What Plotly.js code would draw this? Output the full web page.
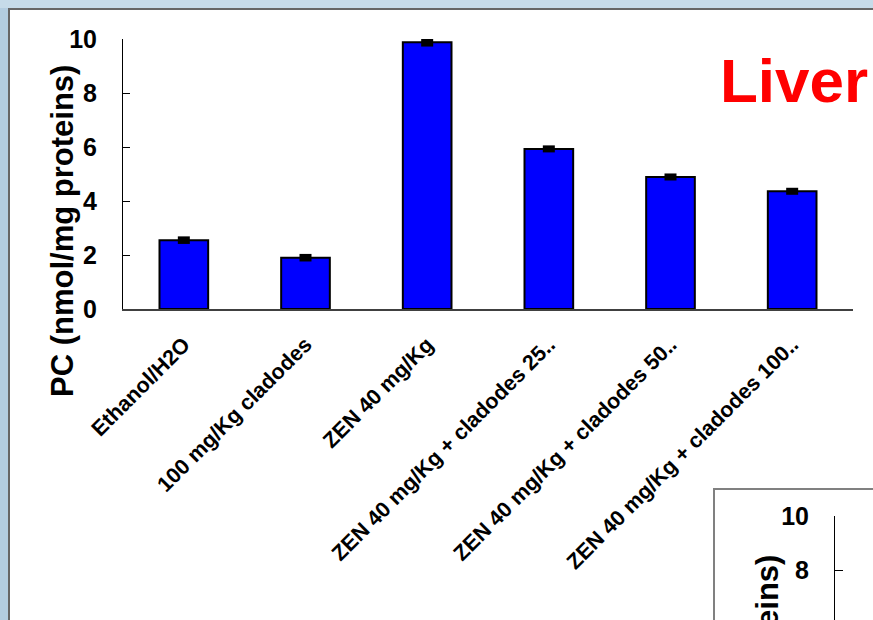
<!DOCTYPE html>
<html>
<head>
<meta charset="utf-8">
<script src="https://cdn.plot.ly/plotly-3.0.1.min.js"></script>
<style>html,body{margin:0;padding:0;overflow:hidden;background:#b3cde0;}#chart{width:873px;height:620px;}</style>
</head>
<body>
<div id="chart"></div>
<script>
// ---- data ----
var categories = [
  "Ethanol/H2O",
  "100 mg/Kg cladodes",
  "ZEN 40 mg/Kg",
  "ZEN 40 mg/Kg + cladodes 25..",
  "ZEN 40 mg/Kg + cladodes 50..",
  "ZEN 40 mg/Kg + cladodes 100.."
];
var pcValues = [2.55, 1.9, 9.88, 5.93, 4.89, 4.36];
var pcErrors = [0.14, 0.14, 0.16, 0.13, 0.13, 0.13];
var yTickVals = [0, 2, 4, 6, 8, 10];
var insetTickVals = [6, 8, 10];
var chartLabel = "Liver";
var yTitle = "PC (nmol/mg proteins)";

var W = 873, H = 620;
function px(x){ return x / W; }
function py(y){ return (H - y) / H; }

var FONT = "Liberation Sans, Arial, Helvetica, sans-serif";

var traces = [
  {
    type: "bar",
    x: categories,
    y: pcValues,
    xaxis: "x", yaxis: "y",
    marker: { color: "#0000FF", line: { color: "#000000", width: 2 } },
    error_y: { type: "data", array: pcErrors, visible: true, color: "#000000", thickness: 12, width: 0 },
    hoverinfo: "skip"
  },
  {
    type: "scatter", mode: "markers",
    x: [], y: [],
    xaxis: "x2", yaxis: "y2",
    hoverinfo: "skip"
  }
];

var layout = {
  width: W, height: H,
  margin: { l: 0, r: 0, t: 0, b: 0, pad: 0 },
  paper_bgcolor: "#b3cde0",
  plot_bgcolor: "rgba(0,0,0,0)",
  showlegend: false,
  bargap: 0.6,
  font: { family: FONT, color: "#000000" },
  xaxis: {
    domain: [px(123), px(853)],
    anchor: "y",
    range: [-0.5, 5.5],
    type: "category",
    showline: true, linecolor: "#404040", linewidth: 1.5,
    ticks: "", showgrid: false, zeroline: false,
    tickangle: -45,
    ticklabelstandoff: 13,
    tickfont: { family: FONT, size: 21.5, weight: "bold", color: "#000000" },
    automargin: false
  },
  yaxis: {
    domain: [py(309), py(39)],
    anchor: "x",
    range: [0, 10],
    tickvals: yTickVals,
    showline: true, linecolor: "#000000", linewidth: 1,
    ticks: "inside", ticklen: 7, tickwidth: 1, tickcolor: "#000000",
    showgrid: false, zeroline: false,
    ticklabelstandoff: 20,
    tickfont: { family: FONT, size: 25, weight: "bold", color: "#000000" },
    automargin: false
  },
  xaxis2: {
    domain: [px(835), 1],
    anchor: "y2",
    visible: false,
    range: [0, 1]
  },
  yaxis2: {
    domain: [0, py(516)],
    anchor: "x2",
    range: [6.18, 10],
    tickvals: insetTickVals,
    showline: true, linecolor: "#000000", linewidth: 1,
    ticks: "inside", ticklen: 8, tickwidth: 1, tickcolor: "#000000",
    showgrid: false, zeroline: false,
    ticklabelstandoff: 20,
    tickfont: { family: FONT, size: 25, weight: "bold", color: "#000000" },
    automargin: false
  },
  shapes: [
    { type: "rect", xref: "paper", yref: "paper", layer: "below",
      x0: 0, x1: 1.05, y0: py(8), y1: 1.05,
      fillcolor: "#c6dbe9", line: { width: 0 } },
    { type: "rect", xref: "paper", yref: "paper", layer: "below",
      x0: px(9), x1: 1.1, y0: -0.2, y1: py(9),
      fillcolor: "#ffffff", line: { color: "#666666", width: 2 } },
    { type: "rect", xref: "paper", yref: "paper", layer: "below",
      x0: px(714), x1: 1.1, y0: -0.2, y1: py(489),
      fillcolor: "#ffffff", line: { color: "#808080", width: 2 } }
  ],
  annotations: [
    { text: chartLabel, xref: "paper", yref: "paper",
      x: px(718), y: py(80), xanchor: "left", yanchor: "middle",
      showarrow: false,
      font: { family: FONT, size: 62, weight: "bold", color: "#FF0000" } },
    { text: yTitle, xref: "paper", yref: "paper",
      x: px(62), y: py(231), xanchor: "center", yanchor: "middle",
      textangle: -90, showarrow: false,
      font: { family: FONT, size: 31, weight: "bold", color: "#000000" } },
    { text: yTitle, xref: "paper", yref: "paper",
      x: px(767), y: py(553), xanchor: "center", yanchor: "top",
      textangle: -90, showarrow: false,
      font: { family: FONT, size: 31, weight: "bold", color: "#000000" } }
  ]
};

Plotly.newPlot("chart", traces, layout, { staticPlot: true, displayModeBar: false });
</script>
</body>
</html>
